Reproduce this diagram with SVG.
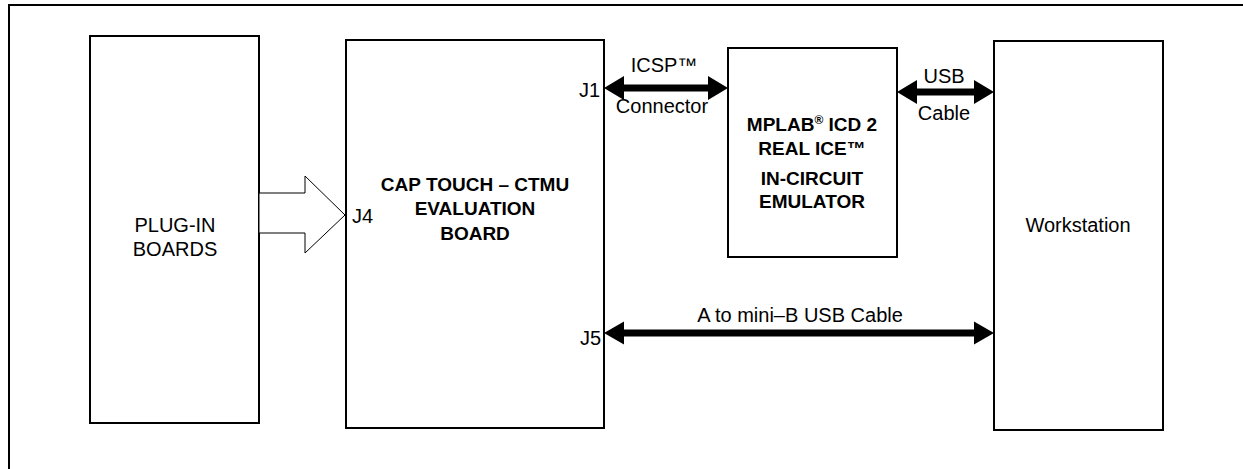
<svg xmlns="http://www.w3.org/2000/svg" width="1243" height="469" viewBox="0 0 1243 469">
<style>
.box{fill:#fff;stroke:#000;stroke-width:2}
.t{font-family:"Liberation Sans",Arial,sans-serif;font-size:20px;fill:#000}
.b{font-family:"Liberation Sans",Arial,sans-serif;font-size:19px;font-weight:bold;fill:#000}
.m{text-anchor:middle}
.e{text-anchor:end}
.arr{fill:#000;stroke:none}
</style>
<rect width="1243" height="469" fill="#fff"/>
<path d="M9,470 V5 H1244" fill="none" stroke="#000" stroke-width="2"/>
<g id="plugin">
<rect class="box" x="90" y="36" width="169" height="387"/>
<text class="t m" x="175" y="232">PLUG-IN</text>
<text class="t m" x="175" y="256">BOARDS</text>
</g>
<g id="evalboard">
<rect class="box" x="346" y="40" width="258" height="388"/>
<text class="b m" x="475" y="191">CAP TOUCH – CTMU</text>
<text class="b m" x="475" y="215">EVALUATION</text>
<text class="b m" x="475" y="240">BOARD</text>
<text class="t" x="352" y="223">J4</text>
<text class="t e" x="600" y="97">J1</text>
<text class="t e" x="601" y="345">J5</text>
</g>
<g id="emulator">
<rect class="box" x="728" y="48" width="169" height="209"/>
<text class="b m" x="812" y="131">MPLAB<tspan font-size="12" dy="-7">®</tspan><tspan dy="7"> ICD 2</tspan></text>
<text class="b m" x="812" y="155">REAL ICE™</text>
<text class="b m" x="812" y="185">IN-CIRCUIT</text>
<text class="b m" x="812" y="208">EMULATOR</text>
</g>
<g id="workstation">
<rect class="box" x="994" y="41" width="169" height="389"/>
<text class="t m" x="1078" y="232">Workstation</text>
</g>
<g id="connectors">
<polygon class="arr" points="604,88 624,76 624,84.5 708,84.5 708,76 728,88 708,100 708,91.5 624,91.5 624,100"/>
<polygon class="arr" points="897,92 917,80 917,88.5 974,88.5 974,80 994,92 974,104 974,95.5 917,95.5 917,104"/>
<polygon class="arr" points="604,333 624,321.5 624,329.5 974,329.5 974,321.5 994,333 974,344.5 974,336.5 624,336.5 624,344.5"/>
<polygon points="259,193 305,193 305,176 345,215 305,253 305,233 259,233" fill="#fff" stroke="#000" stroke-width="1"/>
<text class="t m" x="664" y="72">ICSP™</text>
<text class="t m" x="662" y="113">Connector</text>
<text class="t m" x="944" y="83">USB</text>
<text class="t m" x="944" y="120">Cable</text>
<text class="t m" x="800" y="322">A to mini–B USB Cable</text>
</g>
</svg>
